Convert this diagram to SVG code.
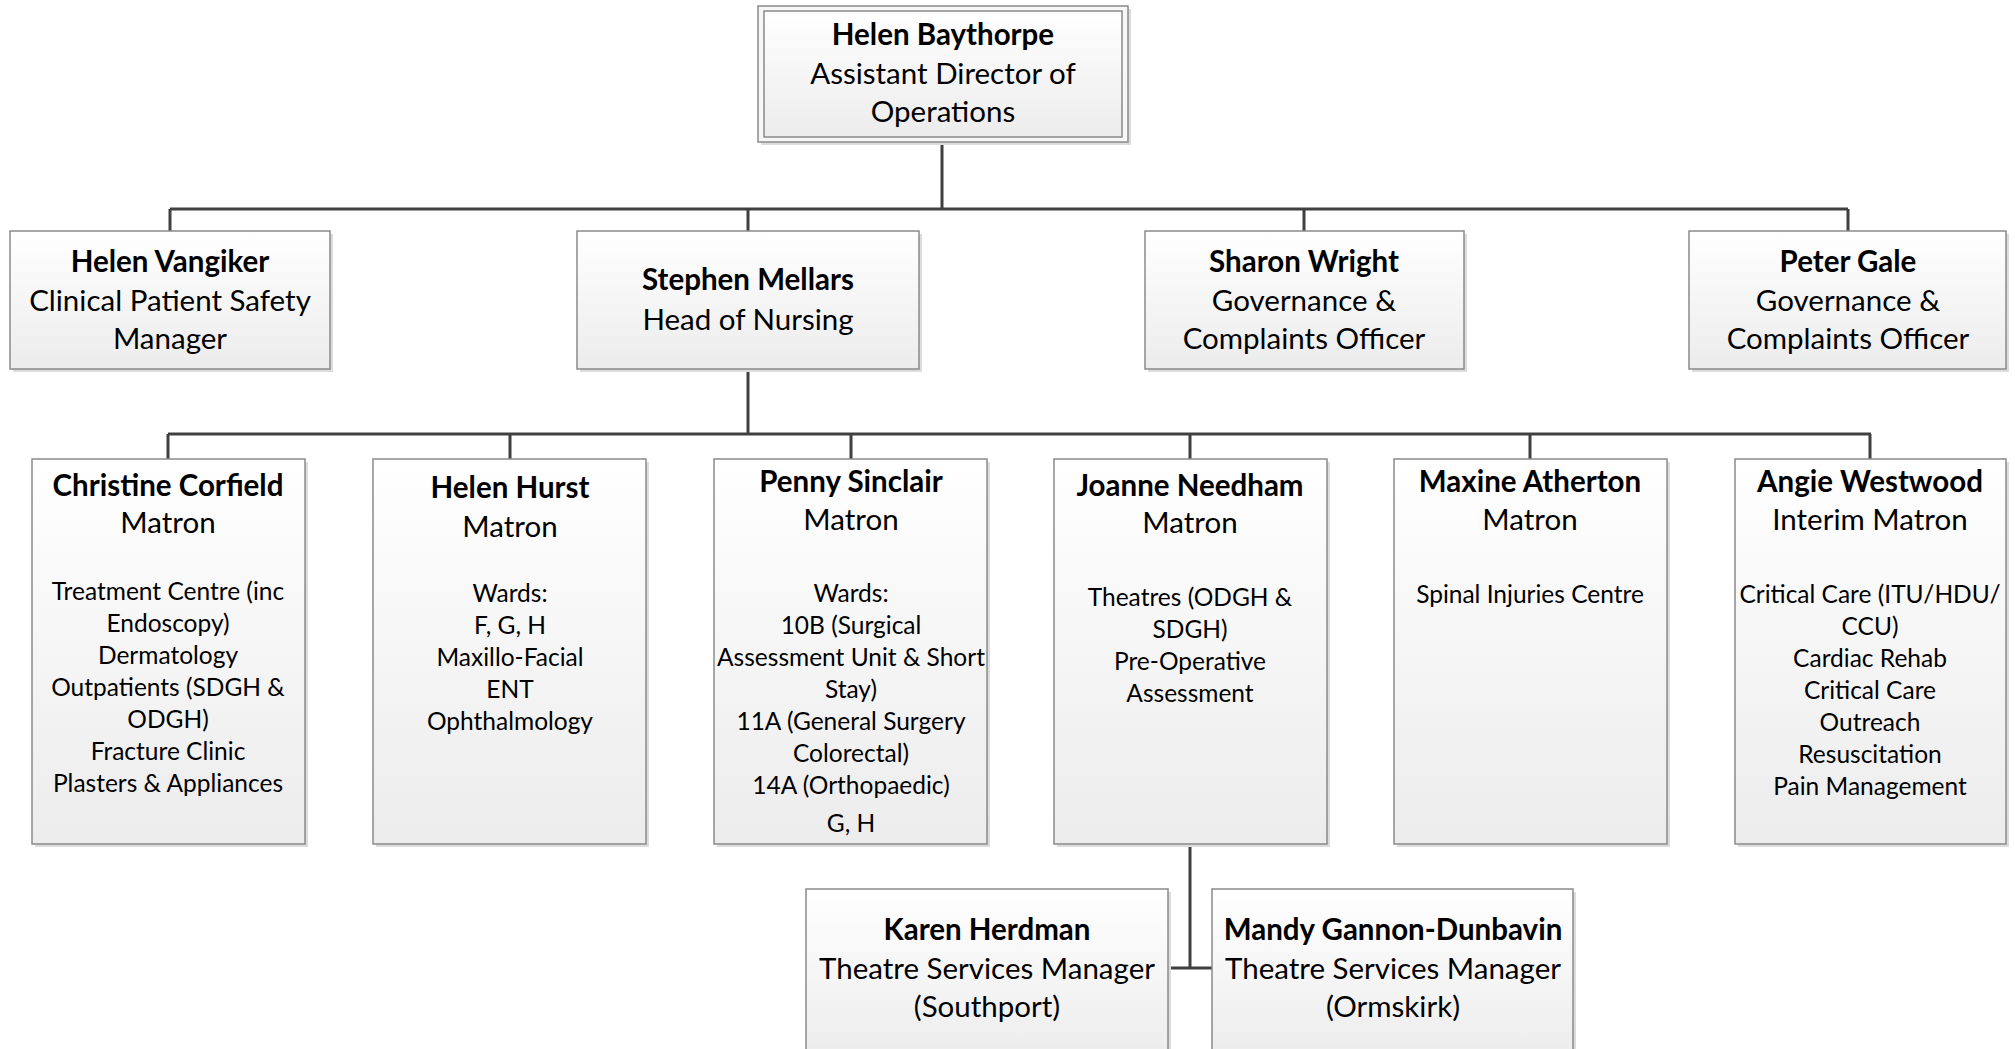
<svg xmlns="http://www.w3.org/2000/svg" width="2015" height="1049" viewBox="0 0 2015 1049">
<defs>
<linearGradient id="g" x1="0" y1="0" x2="0" y2="1">
<stop offset="0" stop-color="#ffffff"/>
<stop offset="1" stop-color="#ececec"/>
</linearGradient>
</defs>
<style>
.box{fill:url(#g);stroke:#8a8a8a;stroke-width:1.5}
.sh{fill:#dcdcdc}
.outer{fill:#f7f7f7;stroke:#8a8a8a;stroke-width:1.5}
.ln{stroke:#404040;stroke-width:3;fill:none}
text{font-family:Lato,"Liberation Sans",sans-serif;fill:#000;text-anchor:middle}
.n{font-weight:bold;font-size:29.5px}
.t{font-size:29.5px}
.d{font-size:24.5px}
</style>
<rect width="2015" height="1049" fill="#fff"/>
<g id="connectors">
<path class="ln" d="M942 141V209M170 209H1848M170 209V231M748 209V231M1304 209V231M1848 209V231"/>
<path class="ln" d="M748 369V434M168 434H1871M168 434V459M510 434V459M851 434V459M1190 434V459M1530 434V459M1870 434V459"/>
<path class="ln" d="M1190 844V968M1168 968H1212"/>
</g>
<g id="helen-baythorpe">
<rect class="sh" x="761" y="9" width="370" height="136"/>
<rect class="outer" x="758" y="6" width="370" height="136"/>
<rect class="box" x="764" y="11" width="358" height="126"/>
<text x="943" y="45" class="n">Helen Baythorpe</text>
<text x="943" y="84" class="t">Assistant Director of</text>
<text x="943" y="122" class="t">Operations</text>
</g>
<g id="helen-vangiker">
<rect class="sh" x="13" y="234" width="320" height="138"/>
<rect class="box" x="10" y="231" width="320" height="138"/>
<text x="170" y="272" class="n">Helen Vangiker</text>
<text x="170" y="311" class="t">Clinical Patient Safety</text>
<text x="170" y="349" class="t">Manager</text>
</g>
<g id="stephen-mellars">
<rect class="sh" x="580" y="234" width="342" height="138"/>
<rect class="box" x="577" y="231" width="342" height="138"/>
<text x="748" y="290" class="n">Stephen Mellars</text>
<text x="748" y="330" class="t">Head of Nursing</text>
</g>
<g id="sharon-wright">
<rect class="sh" x="1148" y="234" width="319" height="138"/>
<rect class="box" x="1145" y="231" width="319" height="138"/>
<text x="1304" y="272" class="n">Sharon Wright</text>
<text x="1304" y="311" class="t">Governance &amp;</text>
<text x="1304" y="349" class="t">Complaints Officer</text>
</g>
<g id="peter-gale">
<rect class="sh" x="1692" y="234" width="317" height="138"/>
<rect class="box" x="1689" y="231" width="317" height="138"/>
<text x="1848" y="272" class="n">Peter Gale</text>
<text x="1848" y="311" class="t">Governance &amp;</text>
<text x="1848" y="349" class="t">Complaints Officer</text>
</g>
<g id="christine-corfield">
<rect class="sh" x="35" y="462" width="273" height="385"/>
<rect class="box" x="32" y="459" width="273" height="385"/>
<text x="168" y="496" class="n">Christine Corfield</text>
<text x="168" y="533" class="t">Matron</text>
<text x="168" y="600" class="d">Treatment Centre (inc</text>
<text x="168" y="632" class="d">Endoscopy)</text>
<text x="168" y="664" class="d">Dermatology</text>
<text x="168" y="696" class="d">Outpatients (SDGH &amp;</text>
<text x="168" y="728" class="d">ODGH)</text>
<text x="168" y="760" class="d">Fracture Clinic</text>
<text x="168" y="792" class="d">Plasters &amp; Appliances</text>
</g>
<g id="helen-hurst">
<rect class="sh" x="376" y="462" width="273" height="385"/>
<rect class="box" x="373" y="459" width="273" height="385"/>
<text x="510" y="498" class="n">Helen Hurst</text>
<text x="510" y="537" class="t">Matron</text>
<text x="510" y="602" class="d">Wards:</text>
<text x="510" y="634" class="d">F, G, H</text>
<text x="510" y="666" class="d">Maxillo-Facial</text>
<text x="510" y="698" class="d">ENT</text>
<text x="510" y="730" class="d">Ophthalmology</text>
</g>
<g id="penny-sinclair">
<rect class="sh" x="717" y="462" width="273" height="385"/>
<rect class="box" x="714" y="459" width="273" height="385"/>
<text x="851" y="492" class="n">Penny Sinclair</text>
<text x="851" y="530" class="t">Matron</text>
<text x="851" y="602" class="d">Wards:</text>
<text x="851" y="634" class="d">10B (Surgical</text>
<text x="851" y="666" class="d">Assessment Unit &amp; Short</text>
<text x="851" y="698" class="d">Stay)</text>
<text x="851" y="730" class="d">11A (General Surgery</text>
<text x="851" y="762" class="d">Colorectal)</text>
<text x="851" y="794" class="d">14A (Orthopaedic)</text>
<text x="851" y="832" class="d">G, H</text>
</g>
<g id="joanne-needham">
<rect class="sh" x="1057" y="462" width="273" height="385"/>
<rect class="box" x="1054" y="459" width="273" height="385"/>
<text x="1190" y="496" class="n">Joanne Needham</text>
<text x="1190" y="533" class="t">Matron</text>
<text x="1190" y="606" class="d">Theatres (ODGH &amp;</text>
<text x="1190" y="638" class="d">SDGH)</text>
<text x="1190" y="670" class="d">Pre-Operative</text>
<text x="1190" y="702" class="d">Assessment</text>
</g>
<g id="maxine-atherton">
<rect class="sh" x="1397" y="462" width="273" height="385"/>
<rect class="box" x="1394" y="459" width="273" height="385"/>
<text x="1530" y="492" class="n">Maxine Atherton</text>
<text x="1530" y="530" class="t">Matron</text>
<text x="1530" y="603" class="d">Spinal Injuries Centre</text>
</g>
<g id="angie-westwood">
<rect class="sh" x="1738" y="462" width="271" height="385"/>
<rect class="box" x="1735" y="459" width="271" height="385"/>
<text x="1870" y="492" class="n">Angie Westwood</text>
<text x="1870" y="530" class="t">Interim Matron</text>
<text x="1870" y="603" class="d">Critical Care (ITU/HDU/</text>
<text x="1870" y="635" class="d">CCU)</text>
<text x="1870" y="667" class="d">Cardiac Rehab</text>
<text x="1870" y="699" class="d">Critical Care</text>
<text x="1870" y="731" class="d">Outreach</text>
<text x="1870" y="763" class="d">Resuscitation</text>
<text x="1870" y="795" class="d">Pain Management</text>
</g>
<g id="karen-herdman">
<rect class="sh" x="809" y="892" width="362" height="170"/>
<rect class="box" x="806" y="889" width="362" height="170"/>
<text x="987" y="940" class="n">Karen Herdman</text>
<text x="987" y="979" class="t">Theatre Services Manager</text>
<text x="987" y="1017" class="t">(Southport)</text>
</g>
<g id="mandy-gannon-dunbavin">
<rect class="sh" x="1215" y="892" width="361" height="170"/>
<rect class="box" x="1212" y="889" width="361" height="170"/>
<text x="1393" y="940" class="n">Mandy Gannon-Dunbavin</text>
<text x="1393" y="979" class="t">Theatre Services Manager</text>
<text x="1393" y="1017" class="t">(Ormskirk)</text>
</g>
</svg>
